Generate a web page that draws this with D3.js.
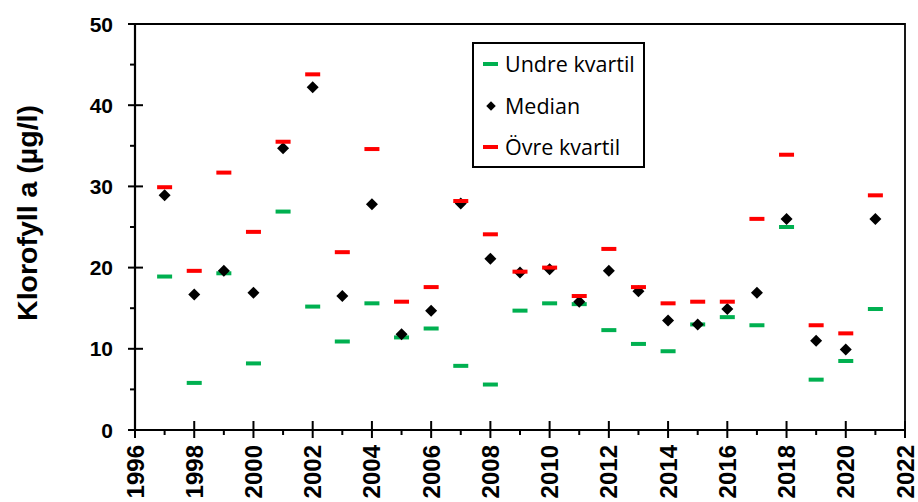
<!DOCTYPE html>
<html>
<head>
<meta charset="utf-8">
<script src="https://cdn.jsdelivr.net/npm/d3@7"></script>
<style>
  body { margin: 0; background: #fff; }
  svg { display: block; }
  .tick-label { font-family: "Liberation Sans", Arial, sans-serif; font-weight: bold; font-size: 21px; fill: #000; }
  .legend-label { font-family: "Open Sans", sans-serif; font-size: 21.5px; fill: #000; }
</style>
</head>
<body>
<div id="chart"></div>
<script>
// Data
const years = [1997, 1998, 1999, 2000, 2001, 2002, 2003, 2004, 2005, 2006, 2007, 2008, 2009,
               2010, 2011, 2012, 2013, 2014, 2015, 2016, 2017, 2018, 2019, 2020, 2021];
const lowerQuartile = [18.9, 5.8, 19.3, 8.2, 26.9, 15.2, 10.9, 15.6, 11.4, 12.5, 7.9, 5.6, 14.7,
                       15.6, 15.5, 12.3, 10.6, 9.7, 13.0, 13.9, 12.9, 25.0, 6.2, 8.5, 14.9];
const median = [28.9, 16.7, 19.6, 16.9, 34.7, 42.2, 16.5, 27.8, 11.8, 14.7, 27.9, 21.1, 19.4,
                19.8, 15.8, 19.6, 17.1, 13.5, 13.0, 14.9, 16.9, 26.0, 11.0, 9.9, 26.0];
const upperQuartile = [29.9, 19.6, 31.7, 24.4, 35.5, 43.8, 21.9, 34.6, 15.8, 17.6, 28.2, 24.1, 19.5,
                       20.0, 16.5, 22.3, 17.6, 15.6, 15.8, 15.8, 26.0, 33.9, 12.9, 11.9, 28.9];
const seriesNames = ["Undre kvartil", "Median", "Övre kvartil"];
const xTicks = d3.range(1996, 2023, 2);
const yTicks = [0, 10, 20, 30, 40, 50];

const width = 918, height = 502;
const margin = { top: 24, right: 13, bottom: 72, left: 135 };
const innerWidth = width - margin.left - margin.right;
const innerHeight = height - margin.top - margin.bottom;

const green = "#00b050", red = "#ff0000";

const xScale = d3.scaleLinear().domain([1996, 2022]).range([0, innerWidth]);
const yScale = d3.scaleLinear().domain([0, 50]).range([innerHeight, 0]);

const svg = d3.select("#chart")
  .append("svg")
  .attr("width", width)
  .attr("height", height);

const inner = svg.append("g")
  .attr("transform", `translate(${margin.left}, ${margin.top})`);

// frame (top + right)
inner.append("path")
  .attr("d", `M0,0H${innerWidth}V${innerHeight}`)
  .attr("fill", "none")
  .attr("stroke", "#000")
  .attr("stroke-width", 1.8);

// minor ticks
inner.append("g")
  .selectAll("line")
  .data(d3.range(1997, 2022, 2))
  .join("line")
    .attr("x1", d => xScale(d)).attr("x2", d => xScale(d))
    .attr("y1", innerHeight).attr("y2", innerHeight + 5)
    .attr("stroke", "#000").attr("stroke-width", 2);

inner.append("g")
  .selectAll("line")
  .data([5, 15, 25, 35, 45])
  .join("line")
    .attr("x1", -5).attr("x2", 0)
    .attr("y1", d => yScale(d)).attr("y2", d => yScale(d))
    .attr("stroke", "#000").attr("stroke-width", 2);

// major ticks cross the axis lines
inner.append("g")
  .selectAll("line")
  .data(xTicks)
  .join("line")
    .attr("x1", d => xScale(d)).attr("x2", d => xScale(d))
    .attr("y1", innerHeight - 9).attr("y2", innerHeight + 8)
    .attr("stroke", "#000").attr("stroke-width", 2);

inner.append("g")
  .selectAll("line")
  .data(yTicks)
  .join("line")
    .attr("x1", -7).attr("x2", 8)
    .attr("y1", d => yScale(d)).attr("y2", d => yScale(d))
    .attr("stroke", "#000").attr("stroke-width", 2);

// axis lines
inner.append("line")
  .attr("x1", 0).attr("x2", innerWidth)
  .attr("y1", innerHeight).attr("y2", innerHeight)
  .attr("stroke", "#000").attr("stroke-width", 2.2);
inner.append("line")
  .attr("x1", 0).attr("x2", 0)
  .attr("y1", 0).attr("y2", innerHeight)
  .attr("stroke", "#000").attr("stroke-width", 2.2);

// tick labels
inner.append("g")
  .selectAll("text")
  .data(yTicks)
  .join("text")
    .attr("class", "tick-label")
    .attr("x", -22)
    .attr("y", d => yScale(d))
    .attr("dy", "0.36em")
    .attr("text-anchor", "end")
    .text(d => d);

// x labels: large, rotated, reaching the bottom edge as in the original
inner.append("g")
  .selectAll("text")
  .data(xTicks)
  .join("text")
    .attr("class", "tick-label")
    .attr("transform", d => `translate(${xScale(d) + 8.5}, ${innerHeight + 15}) rotate(-90)`)
    .attr("text-anchor", "end")
    .style("font-size", "24px")
    .text(d => d);

// y title
svg.append("text")
  .attr("transform", "translate(37, 213) rotate(-90)")
  .attr("text-anchor", "middle")
  .style("font-family", "'Liberation Sans', Arial, sans-serif")
  .style("font-weight", "bold")
  .style("font-size", "28.5px")
  .text("Klorofyll a (µg/l)");

// marks
const dashW = 15, dashH = 4;
const diamond = d3.symbol(d3.symbolSquare, 72);

inner.append("g")
  .selectAll("rect")
  .data(years)
  .join("rect")
    .attr("x", (d, i) => xScale(d) - dashW / 2)
    .attr("y", (d, i) => yScale(lowerQuartile[i]) - dashH / 2)
    .attr("width", dashW).attr("height", dashH)
    .attr("fill", green);

inner.append("g")
  .selectAll("path")
  .data(years)
  .join("path")
    .attr("d", diamond)
    .attr("transform", (d, i) => `translate(${xScale(d)}, ${yScale(median[i])}) rotate(45)`)
    .attr("fill", "#000");

inner.append("g")
  .selectAll("rect")
  .data(years)
  .join("rect")
    .attr("x", (d, i) => xScale(d) - dashW / 2)
    .attr("y", (d, i) => yScale(upperQuartile[i]) - dashH / 2)
    .attr("width", dashW).attr("height", dashH)
    .attr("fill", red);

// legend
const legend = svg.append("g").attr("transform", "translate(473, 43)");
legend.append("rect")
  .attr("width", 171).attr("height", 124)
  .attr("fill", "#fff").attr("stroke", "#000").attr("stroke-width", 2);

const rowY = [21, 63, 104];
seriesNames.forEach((name, i) => {
  const row = legend.append("g").attr("transform", `translate(0, ${rowY[i]})`);
  if (i === 1) {
    row.append("path")
      .attr("d", d3.symbol(d3.symbolSquare, 45))
      .attr("transform", "translate(18, 0) rotate(45)")
      .attr("fill", "#000");
  } else {
    row.append("rect")
      .attr("x", 10).attr("y", -dashH / 2)
      .attr("width", dashW).attr("height", dashH)
      .attr("fill", i === 0 ? green : red);
  }
  row.append("text")
    .attr("class", "legend-label")
    .attr("x", 32)
    .attr("dy", "0.36em")
    .text(name);
});
</script>
</body>
</html>
